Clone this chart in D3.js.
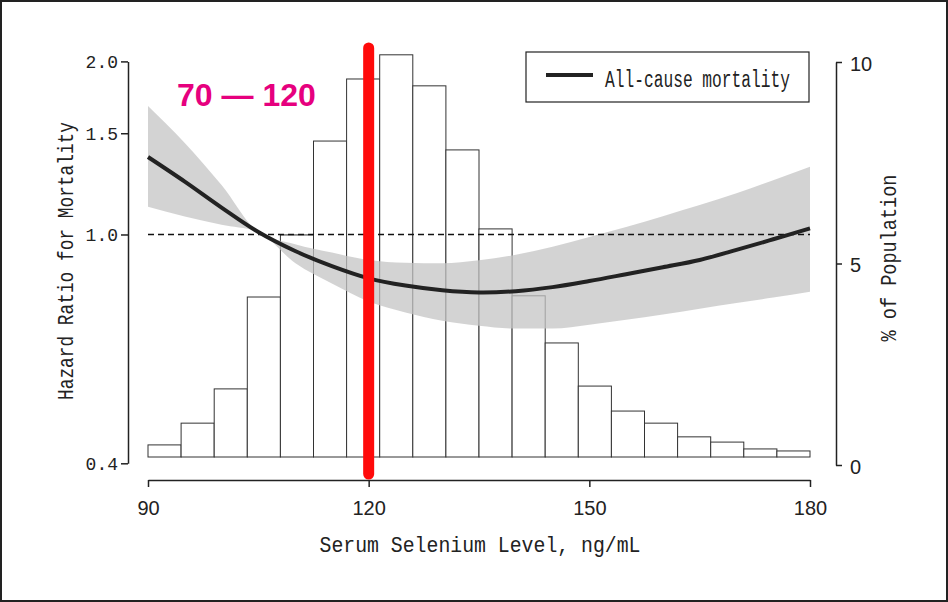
<!DOCTYPE html>
<html><head><meta charset="utf-8">
<script src="https://cdn.jsdelivr.net/npm/d3@7"></script>
<style>body{margin:0;background:#fff}svg{display:block}</style>
</head><body>
<svg id="c" width="948" height="602"></svg>
<script>
// ---------- data ----------
const selenium = [90,95,100,105,110,115,120,125,130,135,140,145,150,155,160,165,170,175,180];
const hr       = [1.364,1.236,1.114,1.010,0.936,0.881,0.839,0.815,0.800,0.793,0.797,0.810,0.830,0.853,0.877,0.903,0.940,0.981,1.025];
const hrUpper  = [1.673,1.443,1.219,1.010,0.962,0.930,0.903,0.893,0.891,0.902,0.922,0.952,0.990,1.030,1.076,1.125,1.180,1.243,1.312];
const hrLower  = [1.118,1.075,1.040,1.010,0.892,0.822,0.765,0.732,0.708,0.694,0.686,0.686,0.697,0.711,0.726,0.743,0.760,0.777,0.795];
const binLo    = [90,94.5,99,103.5,108,112.5,117,121.5,126,130.5,135,139.5,144,148.5,153,157.5,162,166.5,171,175.5];
const binWidth = 4.5;
const pctPop   = [0.30,0.84,1.69,3.97,5.51,7.84,9.38,9.98,9.21,7.62,5.66,4.00,2.83,1.76,1.14,0.84,0.50,0.37,0.20,0.15];
const xTicks   = [90,120,150,180];
const hrTicks  = [0.4,1.0,1.5,2.0];
const pctTicks = [0,5,10];
const refHR    = 1.0;
const markerX  = 120;
const legendLabel = "All-cause mortality";
const annotation  = "70 \u2014 120";

// ---------- scales ----------
const svg = d3.select("#c");
const x = d3.scaleLinear().domain([90,180]).range([148,810]);
const yHR = d3.scaleLog().domain([0.4,2.0]).range([463.3,61.4]);
const yPct = d3.scaleLinear().domain([0,10]).range([465,62]);
const yBar = d3.scaleLinear().domain([0,10]).range([457,54]);

svg.append("rect").attr("x",1).attr("y",1).attr("width",946).attr("height",600)
  .attr("fill","#fff").attr("stroke","#222").attr("stroke-width",2);

// histogram
const bars = binLo.map((lo,i)=>({lo, hi: lo+binWidth, v: pctPop[i]}));
svg.append("g").selectAll("rect").data(bars).join("rect")
  .attr("x",d=>x(d.lo)).attr("width",d=>x(d.hi)-x(d.lo))
  .attr("y",d=>yBar(d.v)).attr("height",d=>yBar(0)-yBar(d.v))
  .attr("fill","#fff").attr("stroke","#333").attr("stroke-width",1);

// CI band
const pts = selenium.map((s,i)=>({s, m: hr[i], lo: hrLower[i], hi: hrUpper[i]}));
svg.append("path").datum(pts)
  .attr("d", d3.area().x(d=>x(d.s)).y0(d=>yHR(d.lo)).y1(d=>yHR(d.hi)).curve(d3.curveMonotoneX))
  .attr("fill","#c4c4c4").attr("opacity",0.75);

// reference dashed line
svg.append("line").attr("x1",x(90)).attr("x2",x(180)).attr("y1",yHR(refHR)).attr("y2",yHR(refHR))
  .attr("stroke","#111").attr("stroke-width",1.4).attr("stroke-dasharray","6,4");

// HR curve
svg.append("path").datum(pts)
  .attr("d", d3.line().x(d=>x(d.s)).y(d=>yHR(d.m)).curve(d3.curveCatmullRom.alpha(0.5)))
  .attr("fill","none").attr("stroke","#222").attr("stroke-width",4);

// axes
const fMono = "'Liberation Mono','DejaVu Sans Mono',monospace";
const fSans = "'Liberation Sans',Arial,sans-serif";

const gL = svg.append("g").attr("transform","translate(128,0)")
  .call(d3.axisLeft(yHR).tickValues(hrTicks).tickFormat(d3.format(".1f")).tickSize(7).tickSizeOuter(0).tickPadding(3));
gL.selectAll("text").attr("font-family",fMono).attr("font-size",18).attr("fill","#222");

const gR = svg.append("g").attr("transform","translate(836,0)")
  .call(d3.axisRight(yPct).tickValues(pctTicks).tickSize(6).tickSizeOuter(0).tickPadding(8));
gR.selectAll("text").attr("font-family",fSans).attr("font-size",20).attr("fill","#222").attr("dy","0.4em");

const gB = svg.append("g").attr("transform","translate(0,480)")
  .call(d3.axisBottom(x).tickValues(xTicks).tickSize(7).tickSizeOuter(0).tickPadding(14));
gB.selectAll("text").attr("font-family",fSans).attr("font-size",20).attr("fill","#222");

[gL,gR,gB].forEach(g=>{
  g.select(".domain").attr("stroke","#222").attr("stroke-width",1.5);
  g.selectAll(".tick line").attr("stroke","#222").attr("stroke-width",1.5);
});

// red marker line
svg.append("line").attr("x1",x(markerX)).attr("x2",x(markerX)).attr("y1",48).attr("y2",474)
  .attr("stroke","#ff0a0a").attr("stroke-width",11).attr("stroke-linecap","round");

// annotation text
svg.append("text").attr("x",177).attr("y",106).text(annotation)
  .attr("font-family",fSans).attr("font-weight","bold").attr("font-size",32).attr("fill","#e6007e");

// axis titles
svg.append("text").attr("x",480).attr("y",552).attr("text-anchor","middle")
  .attr("font-family",fMono).attr("font-size",22).attr("fill","#222")
  .attr("textLength",321).attr("lengthAdjust","spacingAndGlyphs")
  .text("Serum Selenium Level, ng/mL");

svg.append("text").attr("transform","translate(73,261) rotate(-90)").attr("text-anchor","middle")
  .attr("font-family",fMono).attr("font-size",22).attr("fill","#222")
  .attr("textLength",278).attr("lengthAdjust","spacingAndGlyphs")
  .text("Hazard Ratio for Mortality");

svg.append("text").attr("transform","translate(896,258) rotate(-90)").attr("text-anchor","middle")
  .attr("font-family",fMono).attr("font-size",22).attr("fill","#222")
  .attr("textLength",167).attr("lengthAdjust","spacingAndGlyphs")
  .text("% of Population");

// legend
const lg = svg.append("g");
lg.append("rect").attr("x",526).attr("y",52).attr("width",283).attr("height",50)
  .attr("fill","#fff").attr("stroke","#222").attr("stroke-width",1.2);
lg.append("line").attr("x1",546).attr("x2",593).attr("y1",75).attr("y2",75)
  .attr("stroke","#222").attr("stroke-width",4);
lg.append("text").attr("x",605).attr("y",87).text(legendLabel)
  .attr("font-family",fMono).attr("font-size",23).attr("fill","#222")
  .attr("textLength",185).attr("lengthAdjust","spacingAndGlyphs");
</script>
</body></html>
